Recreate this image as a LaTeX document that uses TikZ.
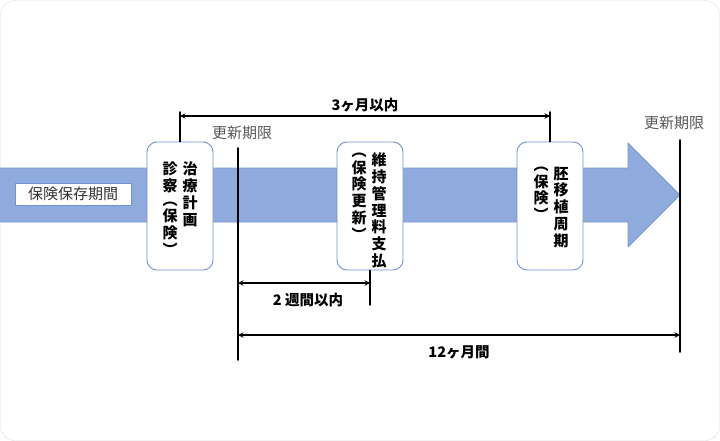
\documentclass[tikz,border=0pt]{standalone}
\usepackage{fontspec}
\setmainfont{Noto Sans CJK JP}
\usetikzlibrary{positioning}
\definecolor{bandblue}{HTML}{8FAADC}
\definecolor{bandedge}{HTML}{7898D2}
\definecolor{boxblue}{HTML}{6F93D0}
\definecolor{framegray}{HTML}{DDDDDD}
\definecolor{notegray}{HTML}{595959}
\begin{document}
\begin{tikzpicture}[x=1pt, y=-1pt, line cap=round, line join=round, >=stealth, font=\fontsize{15}{17}\selectfont]
		\tikzset{stepcard/.style={draw=boxblue, fill=white, rounded corners=10pt, minimum width=66pt, minimum height=128pt, inner sep=0pt, line width=0.9pt},
			vcol/.style={align=center, inner sep=0pt, font=\bfseries\fontsize{15}{16.8}\selectfont},
			span/.style={<->, line width=1.4pt},
			tick/.style={line width=1.6pt},
			note/.style={text=notegray, font=\fontsize{15}{17}\selectfont},
			dimtext/.style={font=\bfseries\fontsize{14.5}{17}\selectfont}}
		\useasboundingbox (0,0) rectangle (720,441);
		\draw[framegray, rounded corners=14pt] (0.5,0.5) rectangle (719.5,440.5);
		% band with arrow head
		\draw[fill=bandblue, draw=bandedge, line width=0.8pt] (0,168) -- (628,168) -- (628,143) -- (680,195) -- (628,247) -- (628,222) -- (0,222);
		\node[draw=boxblue, fill=white, line width=0.6pt, minimum width=116pt, minimum height=22pt, inner sep=0pt, text=black!80] (keep) at (73,194) {保険保存期間};
		% step cards
		\node[stepcard] (exam) at (180,206) {};
		\node[stepcard] (fee) at (370,206) {};
		\node[stepcard] (transfer) at (550,206) {};
		\node[vcol, anchor=north] (exam r) at ([xshift=10pt, yshift=-20pt]exam.north) {治\\療\\計\\画};
		\node[vcol, anchor=north] (exam l) at ([xshift=-10pt, yshift=-20pt]exam.north) {診\\察\\[-3pt]︵\\保\\険\\︶};
		\node[vcol, anchor=north] (fee r) at ([xshift=9pt, yshift=-11pt]fee.north) {維\\持\\管\\理\\料\\支\\払};
		\node[vcol, anchor=north] (fee l) at ([xshift=-11pt, yshift=-11pt]fee.north) {︵\\保\\険\\更\\新\\︶};
		\node[vcol, anchor=north] (transfer r) at ([xshift=11pt, yshift=-25pt]transfer.north) {胚\\移\\植\\周\\期};
		\node[vcol, anchor=north] (transfer l) at ([xshift=-9pt, yshift=-25pt]transfer.north) {︵\\保\\険\\︶};
		% deadlines
		\node[note] (limit a) at (242,133) {更新期限};
		\node[note] (limit b) at (674,123) {更新期限};
		\coordinate (a top) at (238,148);
		\coordinate (a bot) at (238,360);
		\coordinate (b top) at (680,140);
		\coordinate (b bot) at (680,352);
		\draw[tick] (a top) -- (a bot);
		\draw[tick] (b top) -- (b bot);
		% 3 months
		\coordinate (m3 l) at (180,112);
		\coordinate (m3 r) at (550,112);
		\draw[tick] (exam.north) -- (m3 l);
		\draw[tick] (transfer.north) -- (m3 r);
		\draw[span] ([yshift=-4pt]m3 l) -- ([yshift=-4pt]m3 r) node[dimtext, midway, above=0pt] {3ヶ月以内};
		% 2 weeks
		\coordinate (w2 end) at (370,305);
		\draw[tick] (fee.south) -- (w2 end);
		\draw[span] (a top |- 0,283) -- (fee.south |- 0,283);
		\node[dimtext] (w2) at (308,300) {2 週間以内};
		% 12 months
		\draw[span] (a top |- 0,335) -- (b top |- 0,335);
		\node[dimtext] (m12) at (459,352) {12ヶ月間};
\end{tikzpicture}
\end{document}
